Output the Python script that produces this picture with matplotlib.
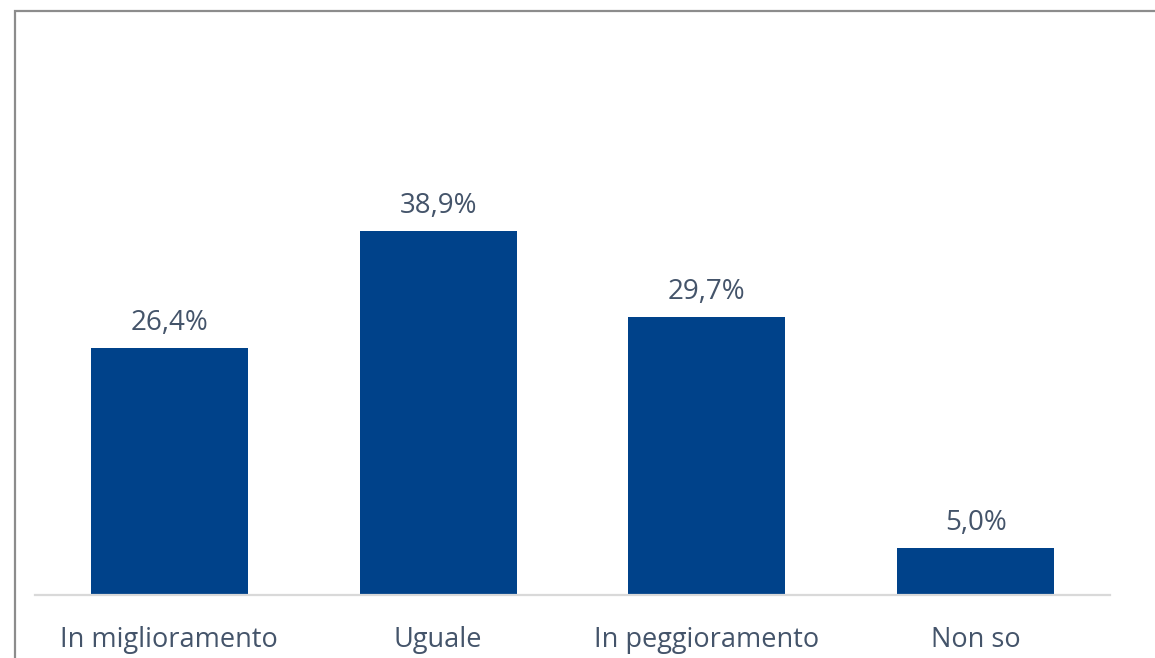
import matplotlib.pyplot as plt
from matplotlib.patches import Rectangle

# categories and values (%)
categories = ["In miglioramento", "Uguale", "In peggioramento", "Non so"]
values = [26.4, 38.9, 29.7, 5.0]
labels = ["26,4%", "38,9%", "29,7%", "5,0%"]

BAR_COLOR = "#00428A"
TEXT_COLOR = "#44546A"

plt.rcParams['font.family'] = ['Open Sans', 'DejaVu Sans']

fig = plt.figure(figsize=(11.55, 6.58), dpi=100)
W, H = 1155, 658

# outer frame (only left and top visible in the crop)
fig.patches.append(Rectangle((15 / W, -0.1), 1.2, (H - 11) / H + 0.1,
                             transform=fig.transFigure, fill=False,
                             edgecolor="#8C8C8C", linewidth=1.6))

ax = fig.add_axes([35 / W, (H - 595) / H, 1075 / W, (595 - 20) / H])
x = range(len(categories))
ax.bar(x, values, width=0.585, color=BAR_COLOR)
for xi, v, lab in zip(x, values, labels):
    ax.annotate(lab, (xi, v), xytext=(0, 8), textcoords="offset points",
                ha="center", va="bottom", fontsize=20, color=TEXT_COLOR)

ax.set_xlim(-0.5, 3.5)
ax.set_ylim(0, 61.45)
ax.set_xticks(list(x))
ax.set_xticklabels(categories, fontsize=19.5, color=TEXT_COLOR)
ax.tick_params(axis="x", length=0, pad=22)
ax.set_yticks([])
for s in ["top", "right", "left"]:
    ax.spines[s].set_visible(False)
ax.spines["bottom"].set_color("#D9D9D9")
ax.spines["bottom"].set_linewidth(1.6)

fig.savefig("out.png", dpi=100)
